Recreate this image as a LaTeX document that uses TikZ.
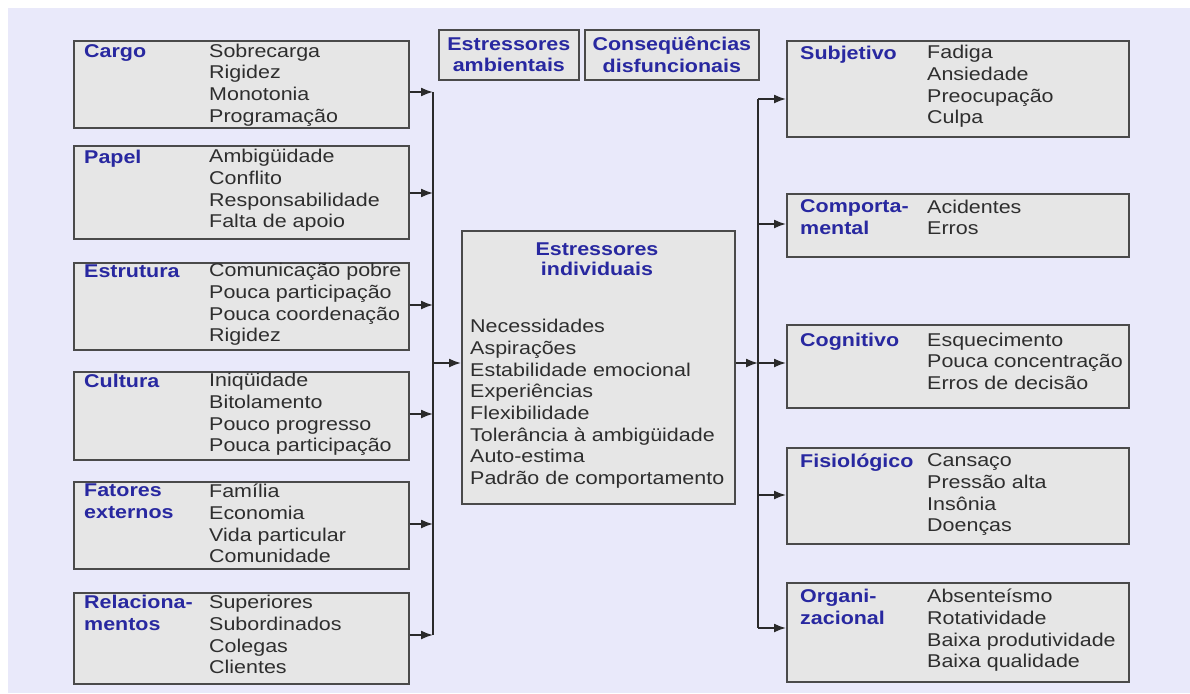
\documentclass[tikz,border=0pt]{standalone}
\usepackage{fontspec}
\setmainfont[FakeStretch=1.16]{Liberation Sans}
\usetikzlibrary{arrows.meta,positioning,calc}
\definecolor{Lav}{HTML}{E9E9FA}
\definecolor{Panel}{HTML}{E6E6E6}
\definecolor{Rim}{HTML}{4A4A4A}
\definecolor{Navy}{HTML}{2828A0}
\definecolor{Ink}{HTML}{2E2E2E}
\definecolor{Wire}{HTML}{2A2A2A}
\tikzset{
 panel/.style={draw=Rim,fill=Panel,line width=1.7pt,anchor=north west,inner sep=0pt},
 head/.style={font=\fontsize{18.5}{21.7}\selectfont\bfseries,text=Navy,align=left,anchor=north west,inner sep=0pt,
  execute at begin node={\rule{0pt}{14pt}}},
 items/.style={head,font=\fontsize{18.5}{21.7}\selectfont,text=Ink},
 tag/.style={panel,font=\fontsize{18.5}{21.7}\selectfont\bfseries,text=Navy,align=center,minimum height=50},
 arr/.style={-{Latex[length=12pt,width=9pt]},line width=1.7pt,draw=Wire},
 bus/.style={line width=1.7pt,draw=Wire}
}
\begin{document}
\begin{tikzpicture}[x=1pt,y=-1pt]
\useasboundingbox (0,0) rectangle (1190,693);
\fill[Lav] (8,8) rectangle (1190,693);
% environmental stressors
\foreach \n/\t/\h/\b/\hd/\lst in {
 cargo/40/87/43.5/{Cargo}/{Sobrecarga\\Rigidez\\Monotonia\\Programação},
 papel/145/93/149/{Papel}/{Ambigüidade\\Conflito\\Responsabilidade\\Falta de apoio},
 estrutura/262/87/263/{Estrutura}/{Comunicação pobre\\Pouca participação\\Pouca coordenação\\Rigidez},
 cultura/371/88/373/{Cultura}/{Iniqüidade\\Bitolamento\\Pouco progresso\\Pouca participação},
 fatores/481/87/484/{Fatores\\externos}/{Família\\Economia\\Vida particular\\Comunidade},
 relac/592/91/595/{Relaciona-\\mentos}/{Superiores\\Subordinados\\Colegas\\Clientes}}
{
 \node[panel,minimum width=335,minimum height=\h] (\n) at (73,\t) {};
 \node[head] (\n-hd) at (84,\b) {\hd};
 \node[items] (\n-it) at (209,\b) {\lst};
}
\node[tag,minimum width=140] (amb) at (438,29) {Estressores\\ambientais};
\node[tag,minimum width=174] (cons) at (584,29) {Conseqüências\\disfuncionais};
% individual stressors
\node[panel,minimum width=273,minimum height=273] (indiv) at (461,230) {};
\node[head,align=center,anchor=north,font=\fontsize{18.5}{20.3}\selectfont\bfseries] (indiv-hd) at (597,242.5) {Estressores\\individuais};
\node[items] (indiv-it) at (470,319) {Necessidades\\Aspirações\\Estabilidade emocional\\Experiências\\Flexibilidade\\Tolerância à ambigüidade\\Auto-estima\\Padrão de comportamento};
% consequences
\foreach \n/\t/\h/\b/\hd/\lst in {
 subj/40/96/45/{Subjetivo}/{Fadiga\\Ansiedade\\Preocupação\\Culpa},
 comp/193/63/199.5/{Comporta-\\mental}/{Acidentes\\Erros},
 cogn/324/83/332.5/{Cognitivo}/{Esquecimento\\Pouca concentração\\Erros de decisão},
 fisio/447/96/453.5/{Fisiológico}/{Cansaço\\Pressão alta\\Insônia\\Doenças},
 org/582/99/589/{Organi-\\zacional}/{Absenteísmo\\Rotatividade\\Baixa produtividade\\Baixa qualidade}}
{
 \node[panel,minimum width=342,minimum height=\h] (\n) at (786,\t) {};
 \node[head] (\n-hd) at (800,\b) {\hd};
 \node[items] (\n-it) at (927,\b) {\lst};
}
% connectors
\foreach \n/\y in {cargo/92,papel/193,estrutura/305,cultura/414,fatores/524,relac/635}{
 \coordinate (\n-in) at (433,\y);
 \draw[arr] (\n.east |- \n-in) -- (\n-in);
}
\draw[bus] (cargo-in) -- (relac-in);
\coordinate (join) at (433,363);
\draw[arr] (join) -- (indiv.west |- join);
\foreach \n/\y in {subj/99,comp/224,cogn/363,fisio/495,org/628}{
 \coordinate (\n-out) at (758,\y);
 \draw[arr] (\n-out) -- (\n.west |- \n-out);
}
\draw[bus] (subj-out) -- (org-out);
\draw[arr] (indiv.east |- join) -- (join -| subj-out);
\end{tikzpicture}
\end{document}
